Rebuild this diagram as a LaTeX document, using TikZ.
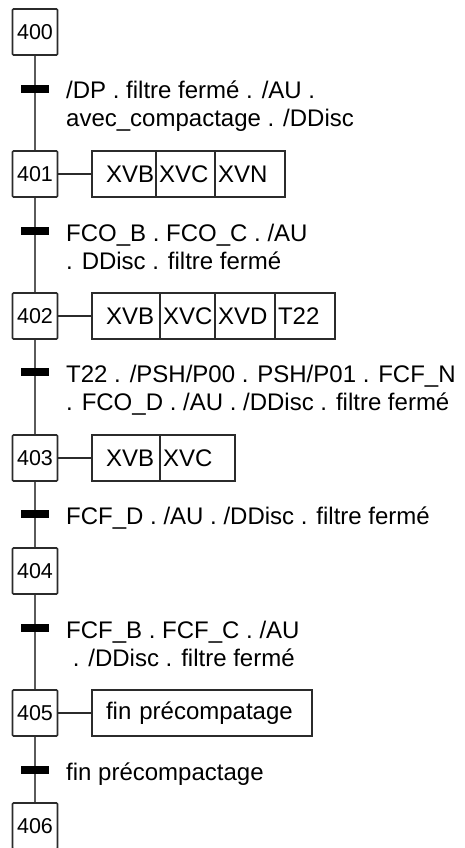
\documentclass[tikz,border=0pt]{standalone}
\usepackage{fontspec}
\setmainfont{Liberation Sans}
\usetikzlibrary{positioning}
\definecolor{boxline}{HTML}{2b2b2b}
\definecolor{railgray}{HTML}{5a5a5a}

\begin{document}
\begin{tikzpicture}[x=1pt,y=-1pt,
  stepbox/.style={draw=boxline,line width=1.6pt,rounded corners=1pt,minimum width=45,
    minimum height=46,inner sep=0,font=\fontsize{21.5}{24}\selectfont},
  cell/.style={draw=boxline,line width=1.6pt,outer sep=0,inner xsep=3pt,inner ysep=0,
    minimum height=46,text width=#1,align=left,font=\fontsize{24}{28}\selectfont},
  bar/.style={fill=black,minimum width=28,minimum height=8,inner sep=0},
  cond/.style={anchor=base west,inner sep=0,font=\fontsize{24}{28}\selectfont},
  rail/.style={draw=railgray,line width=2pt},
  link/.style={draw=boxline,line width=1.6pt}]

% Page frame
\useasboundingbox (0,0) rectangle (464,848);

% ===== STEPS =====
\node[stepbox] (s400) at (35,32) {400};
\node[stepbox] (s401) at (35,174) {401};
\node[stepbox] (s402) at (35,316) {402};
\node[stepbox] (s403) at (35,458) {403};
\node[stepbox] (s404) at (35,571) {404};
\node[stepbox] (s405) at (35,713) {405};
\node[stepbox] (s406) at (35,826) {406};

% ===== TRANSITIONS =====
\node[bar] (t1) at (35,89) {};
\node[bar] (t2) at (35,231) {};
\node[bar] (t3) at (35,372) {};
\node[bar] (t4) at (35,514) {};
\node[bar] (t5) at (35,628) {};
\node[bar] (t6) at (35,770) {};

% Vertical rail
\draw[rail] (s400) -- (t1) -- (s401);
\draw[rail] (s401) -- (t2) -- (s402);
\draw[rail] (s402) -- (t3) -- (s403);
\draw[rail] (s403) -- (t4) -- (s404);
\draw[rail] (s404) -- (t5) -- (s405);
\draw[rail] (s405) -- (t6) -- (s406);

% Receptivities
\node[cond] (c1a) at (66,99) {/DP . filtre fermé . /AU .};
\node[cond] (c1b) at (66,127) {avec\_compactage . /DDisc};
\node[cond] (c2a) at (66,241) {FCO\_B . FCO\_C . /AU};
\node[cond] (c2b) at (66,269) {. DDisc . filtre fermé};
\node[cond] (c3a) at (66,382) {T22 . /PSH/P00 . PSH/P01 . FCF\_N};
\node[cond] (c3b) at (66,410) {. FCO\_D . /AU . /DDisc . filtre fermé};
\node[cond] (c4a) at (66,524) {FCF\_D . /AU . /DDisc . filtre fermé};
\node[cond] (c5a) at (66,638) {FCF\_B . FCF\_C . /AU};
\node[cond] (c5b) at (66,666) {~. /DDisc . filtre fermé};
\node[cond] (c6a) at (66,780) {fin précompactage};

% ===== ACTIONS =====
% Step 401
\node[cell=58,anchor=west] (a401a) at (92,174) {\hspace*{11pt}XVB};
\node[cell=53,right=0pt of a401a] (a401b) {XVC};
\node[cell=64,right=0pt of a401b] (a401c) {XVN};
\draw[link] (s401) -- (a401a);

% Step 402
\node[cell=62,anchor=west] (a402a) at (92,316) {\hspace*{11pt}XVB};
\node[cell=49,right=0pt of a402a] (a402b) {XVC};
\node[cell=54,right=0pt of a402b] (a402c) {XVD};
\node[cell=54,right=0pt of a402c] (a402d) {T22};
\draw[link] (s402) -- (a402a);

% Step 403
\node[cell=62,anchor=west] (a403a) at (92,458) {\hspace*{11pt}XVB};
\node[cell=69,right=0pt of a403a] (a403b) {XVC};
\draw[link] (s403) -- (a403a);

% Step 405
\node[cell=214,anchor=west] (a405a) at (92,713) {\hspace*{11pt}fin précompatage};
\draw[link] (s405) -- (a405a);

\end{tikzpicture}
\end{document}
